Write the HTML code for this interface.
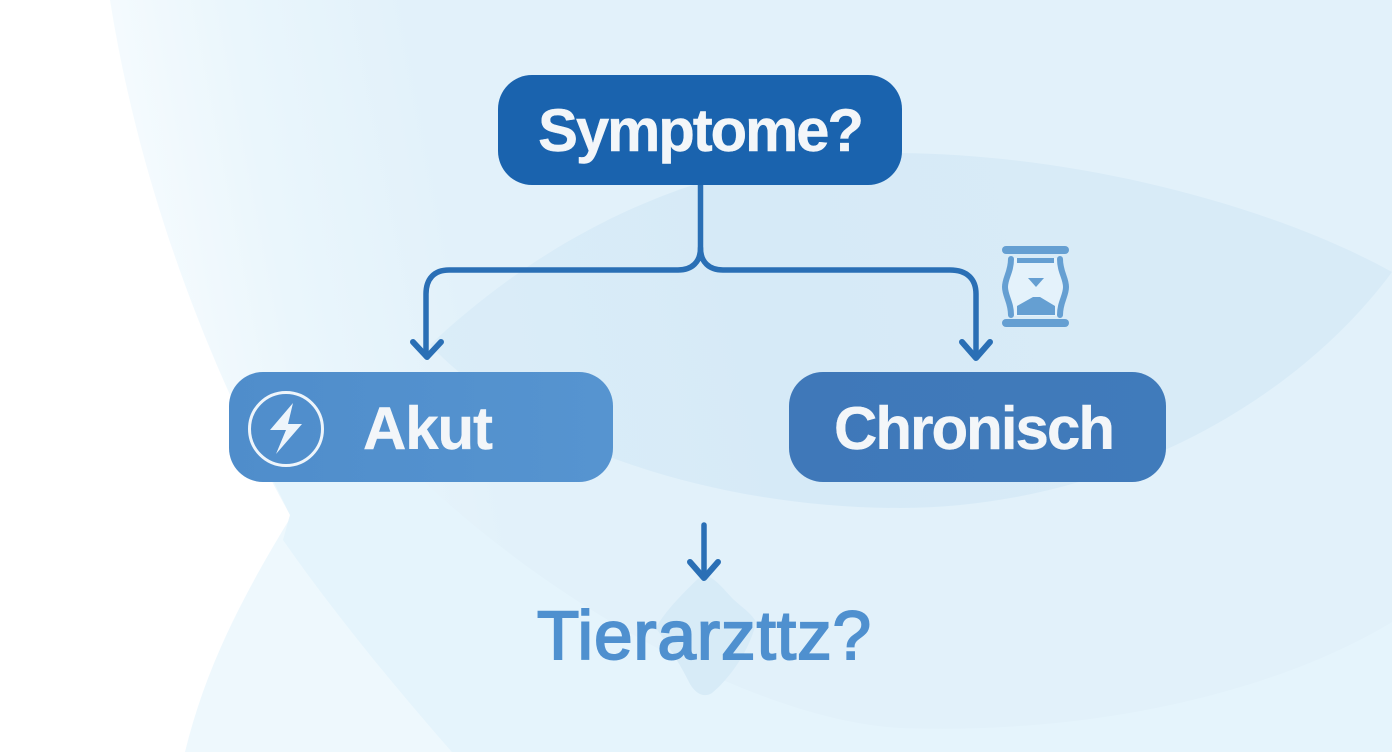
<!DOCTYPE html>
<html lang="de">
<head>
<meta charset="utf-8">
<title>Symptome?</title>
<style>
html,body{margin:0;padding:0;background:#fff}
svg{display:block}
text{font-family:"Liberation Sans",sans-serif;font-weight:700}
</style>
</head>
<body>
<svg width="1392" height="752" viewBox="0 0 1392 752" xmlns="http://www.w3.org/2000/svg">
<defs>
<linearGradient id="bg" gradientUnits="userSpaceOnUse" x1="110" y1="120" x2="420" y2="60">
<stop offset="0" stop-color="#f6fbfe"/><stop offset=".45" stop-color="#eaf6fc"/><stop offset="1" stop-color="#e2f1fa"/>
</linearGradient>
<linearGradient id="lens" gradientUnits="userSpaceOnUse" x1="430" y1="400" x2="1100" y2="250">
<stop offset="0" stop-color="#dbedf8"/><stop offset=".5" stop-color="#d6eaf7"/><stop offset="1" stop-color="#d8ebf7"/>
</linearGradient>
<linearGradient id="akut" x1="0" y1="0" x2="1" y2="0">
<stop offset="0" stop-color="#4f8dcb"/><stop offset="1" stop-color="#5694d0"/>
</linearGradient>
<linearGradient id="chron" x1="0" y1="0" x2="1" y2="0">
<stop offset="0" stop-color="#3f78b9"/><stop offset="1" stop-color="#407bbb"/>
</linearGradient>
</defs>
<rect width="1392" height="752" fill="#fff"/>
<!-- lower-left wedge -->
<path d="M185 752C205 670 240 600 292 515L500 752Z" fill="#eef8fd"/>
<!-- main sweep -->
<path d="M110 0H1392V752H452C380 670 325 600 283 540L290 515C210 370 140 190 110 0Z" fill="url(#bg)"/>
<!-- soft lower band -->
<path d="M272 478H420C560 610 760 720 900 728C1100 735 1280 690 1392 622V752H452C380 670 325 600 283 540L290 515Z" fill="#e5f4fc"/>
<!-- central lens -->
<path d="M430 345C520 260 680 150 900 153C1090 155 1280 210 1392 272C1290 410 1100 508 900 508C720 508 530 450 430 345Z" fill="url(#lens)"/>
<!-- diamond -->
<path d="M703 574C716 578 724 590 734 600C743 608 752 614 756 622C750 650 730 678 712 693C704 698 696 694 690 684C680 664 668 645 656 628C664 612 686 590 703 574Z" fill="#d7ebf7"/>

<!-- connectors -->
<g fill="none" stroke="#2a6fb5" stroke-width="5.500" stroke-linecap="round" stroke-linejoin="round">
<path d="M700.500 184V248C700.500 262 692 270 678 270H449C434 270 426 279 426 294V356"/>
<path d="M700.500 248C700.500 262 709 270 723 270H950C967 270 976 279 976 294V356"/>
<path d="M413 342L427 357L441 342" stroke-width="6"/>
<path d="M962 342L976 358L990 342" stroke-width="6"/>
<path d="M704 525V577"/>
<path d="M690 562L704 578L718 562" stroke-width="6"/>
</g>

<!-- Symptome -->
<rect x="498" y="75" width="404" height="110" rx="34" fill="#1a63ae"/>
<text x="538" y="151" font-size="60" fill="#f3f6f9" stroke="#f3f6f9" stroke-width=".4" textLength="326" lengthAdjust="spacing">Symptome?</text>

<!-- Akut -->
<rect x="229" y="372" width="384" height="110" rx="34" fill="url(#akut)"/>
<circle cx="286" cy="429" r="36.500" fill="none" stroke="#eef5fb" stroke-width="3"/>
<path d="M293 403L270 430H286L276 454L302 424H288Z" fill="#eef5fb"/>
<text x="363" y="449" font-size="60" fill="#f3f6f9" stroke="#f3f6f9" stroke-width=".4" textLength="130" lengthAdjust="spacing">Akut</text>

<!-- Chronisch -->
<rect x="789" y="372" width="377" height="110" rx="34" fill="url(#chron)"/>
<text x="834" y="449" font-size="60" fill="#f3f6f9" stroke="#f3f6f9" stroke-width=".4" textLength="281" lengthAdjust="spacing">Chronisch</text>

<!-- hourglass -->
<path d="M1011 258C1011 272 1004 278 1004 287C1004 296 1011 302 1011 316H1060C1060 302 1067 296 1067 287C1067 278 1060 272 1060 258Z" fill="#e4f2fb"/>
<g fill="none" stroke="#659fd2" stroke-linecap="round">
<path d="M1006 250H1065" stroke-width="8"/>
<path d="M1006 323H1065" stroke-width="8"/>
<path d="M1011 259C1011 272 1005 278 1005 287C1005 296 1011 302 1011 315" stroke-width="6"/>
<path d="M1060 259C1060 272 1066 278 1066 287C1066 296 1060 302 1060 315" stroke-width="6"/>
</g>
<path d="M1017 258H1054V263H1017Z" fill="#659fd2"/>
<path d="M1028 278H1044L1036 287Z" fill="#659fd2"/>
<path d="M1017 315V306L1033 297H1040L1055 306V315Z" fill="#659fd2"/>

<!-- Tierarzttz -->
<text x="537" y="659" font-size="69" fill="#4f90cf" stroke="#4f90cf" stroke-width="2" style="font-weight:400" textLength="334" lengthAdjust="spacing">Tierarzttz?</text>
</svg>
</body>
</html>
